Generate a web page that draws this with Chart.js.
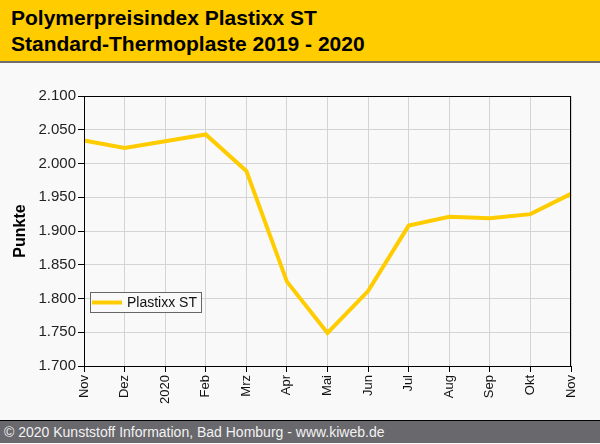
<!DOCTYPE html>
<html>
<head>
<meta charset="utf-8">
<script src="https://cdn.jsdelivr.net/npm/chart.js@4/dist/chart.umd.min.js"></script>
<style>
  html, body { margin: 0; padding: 0; background: #f9f9f9; }
  #wrap { position: relative; width: 600px; height: 444px; overflow: hidden; font-family: Arial, "Liberation Sans", sans-serif; }
  #head { position: absolute; left: 0; top: 0; width: 600px; height: 61px; background: #ffcc00; border-bottom: 2px solid #6e6e6e; }
  #head div { position: absolute; left: 11px; font-weight: bold; font-size: 21px; line-height: 24px; color: #000; }
  #foot { position: absolute; left: 0; top: 420px; width: 600px; height: 23px; background: #68686d; border-top: 1px solid #000; color: #f2f2f2; font-size: 14px; line-height: 23px; padding-left: 4px; box-sizing: border-box; }
  #plot { position: absolute; left: 0; top: 63px; }
</style>
</head>
<body>
<div id="wrap">
  <div id="head">
    <div style="top:6px">Polymerpreisindex Plastixx ST</div>
    <div style="top:32px">Standard-Thermoplaste 2019 - 2020</div>
  </div>
  <canvas id="plot" width="600" height="357"></canvas>
  <div id="foot">© 2020 Kunststoff Information, Bad Homburg - www.kiweb.de</div>
</div>
<script>
// Plastixx ST index, Nov 2019 - Nov 2020
const months = ['Nov', 'Dez', '2020', 'Feb', 'Mrz', 'Apr', 'Mai', 'Jun', 'Jul', 'Aug', 'Sep', 'Okt', 'Nov'];
const plastixxST = [2034, 2023, 2033, 2043, 1989, 1825, 1749, 1811, 1908, 1921, 1919, 1925, 1955];
const yMin = 1700;
const yMax = 2100;
const yStep = 50;

// German thousands separator: 2100 -> "2.100"
function formatPoints(v) {
    const s = String(Math.round(v));
    return s.length > 3 ? s.slice(0, -3) + '.' + s.slice(-3) : s;
}

// frame around the plot and legend box inside it
const framePlugin = {
    id: 'frame',
    afterDraw(chart) {
        const ctx = chart.ctx;
        const a = chart.chartArea;
        ctx.save();
        ctx.strokeStyle = '#000';
        ctx.lineWidth = 1;
        ctx.strokeRect(a.left + 0.5, a.top + 0.5, a.right - a.left - 1, a.bottom - a.top);

        const ds = chart.data.datasets[0];
        const bx = a.left + 6, by = a.bottom - 74;
        ctx.font = '14px Arial, "Liberation Sans", sans-serif';
        const bw = 34 + ctx.measureText(ds.label).width + 7;
        ctx.fillStyle = '#f9f9f9';
        ctx.fillRect(bx, by, bw, 20);
        ctx.strokeStyle = '#666';
        ctx.strokeRect(bx + 0.5, by + 0.5, bw, 20);
        ctx.strokeStyle = ds.borderColor;
        ctx.lineWidth = 4;
        ctx.beginPath();
        ctx.moveTo(bx + 2, by + 10.5);
        ctx.lineTo(bx + 32, by + 10.5);
        ctx.stroke();
        ctx.fillStyle = '#111';
        ctx.textBaseline = 'middle';
        ctx.fillText(ds.label, bx + 37, by + 11);
        ctx.restore();
    }
};

new Chart(document.getElementById('plot').getContext('2d'), {
    type: 'line',
    data: {
        labels: months,
        datasets: [{
            label: 'Plastixx ST',
            data: plastixxST,
            borderColor: '#ffcc00',
            borderWidth: 4,
            pointRadius: 0,
            tension: 0,
            fill: false
        }]
    },
    options: {
        responsive: false,
        animation: false,
        layout: { padding: { top: 33, right: 29, left: 0, bottom: 0 } },
        plugins: {
            legend: { display: false },
            tooltip: { enabled: false }
        },
        scales: {
            x: {
                offset: false,
                grid: { color: '#d4d4d4', tickColor: '#000', tickLength: 6, drawTicks: true },
                border: { color: '#000' },
                ticks: {
                    autoSkip: false,
                    maxRotation: 90,
                    minRotation: 90,
                    padding: 3,
                    color: '#111',
                    font: { family: 'Arial, "Liberation Sans", sans-serif', size: 13 }
                },
                afterFit(scale) { scale.height = 54; }
            },
            y: {
                min: yMin,
                max: yMax,
                grid: { color: '#d4d4d4', tickColor: '#000', tickLength: 6 },
                border: { color: '#000' },
                ticks: {
                    stepSize: yStep,
                    padding: 2,
                    color: '#222',
                    font: { family: 'Arial, "Liberation Sans", sans-serif', size: 15 },
                    callback: v => formatPoints(v)
                },
                title: {
                    display: true,
                    text: 'Punkte',
                    color: '#000',
                    padding: { top: 11, bottom: 0 },
                    font: { family: 'Arial, "Liberation Sans", sans-serif', size: 16, weight: 'bold' }
                },
                afterFit(scale) { scale.width = 84; }
            }
        }
    },
    plugins: [framePlugin]
});
</script>
</body>
</html>
